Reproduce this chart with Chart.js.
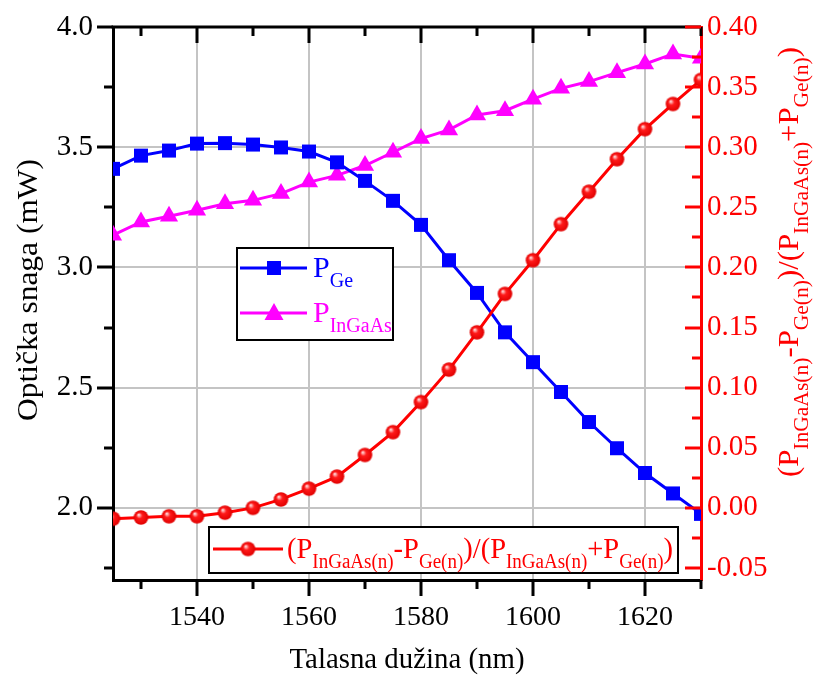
<!DOCTYPE html>
<html><head><meta charset="utf-8">
<script src="https://cdn.jsdelivr.net/npm/chart.js@4/dist/chart.umd.min.js"></script>
<style>html,body{margin:0;padding:0;background:#fff;}#wrap{width:813px;height:675px;}</style>
</head><body><div id="wrap"><canvas id="c" width="813" height="675"></canvas></div>
<script>
// ---- data ----
const wavelengths = [1525,1530,1535,1540,1545,1550,1555,1560,1565,1570,1575,1580,1585,1590,1595,1600,1605,1610,1615,1620,1625,1630];
const pGe = [3.41,3.465,3.486,3.515,3.517,3.511,3.499,3.482,3.437,3.36,3.277,3.177,3.03,2.894,2.73,2.606,2.482,2.357,2.248,2.145,2.06,1.975];
const pInGaAs = [3.134,3.189,3.213,3.238,3.265,3.279,3.307,3.355,3.383,3.424,3.479,3.536,3.572,3.634,3.652,3.70,3.745,3.773,3.81,3.846,3.888,3.87];
const ratio = [-0.009,-0.008,-0.007,-0.007,-0.004,0.000,0.007,0.016,0.026,0.044,0.063,0.088,0.115,0.146,0.178,0.206,0.236,0.263,0.290,0.315,0.336,0.356];
const xTitle = 'Talasna dužina (nm)';
const yTitle = 'Optička snaga (mW)';
const ratioParts = [['(P',0],['InGaAs(n)',1],['-P',0],['Ge(n)',1],[')/(P',0],['InGaAs(n)',1],['+P',0],['Ge(n)',1],[')',0]];
const legendGe = [['P',0],['Ge',1]];
const legendInGaAs = [['P',0],['InGaAs',1]];

const FONT = '"Liberation Serif", "Times New Roman", serif';
const BLUE = '#0000ff', MAG = '#ff00ff', RED = '#ff0000', GRID = '#c4c4c4';

// sphere marker image
function makeSphere(r) {
  const c = document.createElement('canvas');
  const s = Math.ceil(r * 2 + 2);
  c.width = s; c.height = s;
  const g = c.getContext('2d');
  const cx = s / 2, cy = s / 2;
  const grad = g.createRadialGradient(cx - r * 0.35, cy - r * 0.4, 0, cx, cy, r);
  grad.addColorStop(0, '#ffffff');
  grad.addColorStop(0.18, '#ff9a9a');
  grad.addColorStop(0.4, '#ff1a1a');
  grad.addColorStop(1, '#e00000');
  g.fillStyle = grad;
  g.beginPath(); g.arc(cx, cy, r, 0, Math.PI * 2); g.fill();
  return c;
}
const sphere = makeSphere(7.3);

const pts = (ys) => wavelengths.map((x, i) => ({x: x, y: ys[i]}));

function drawRich(ctx, parts, x, y, o) {
  const M = o.size, S = o.sub, D = o.drop;
  let w = 0;
  const widths = parts.map(([t, s]) => { ctx.font = (s ? S : M) + 'px ' + FONT; const m = ctx.measureText(t).width; w += m; return m; });
  const sx = o.fit ? o.fit / w : 1;
  const x0 = o.align === 'center' ? x - w * sx / 2 : x;
  ctx.save();
  ctx.translate(x0, y); ctx.scale(sx, 1);
  ctx.fillStyle = o.color; ctx.textBaseline = 'alphabetic'; ctx.textAlign = 'left';
  let cx = 0;
  parts.forEach(([t, s], i) => { ctx.font = (s ? S : M) + 'px ' + FONT; ctx.fillText(t, cx, s ? D : 0); cx += widths[i]; });
  ctx.restore();
}

const decor = {
  id: 'decor',
  afterDraw(chart) {
    const ctx = chart.ctx;
    const {left, right, top, bottom} = chart.chartArea;
    const xs = chart.scales.x, yl = chart.scales.y, yr = chart.scales.y1;
    ctx.save();
    ctx.lineCap = 'butt';
    // top border
    ctx.strokeStyle = '#000'; ctx.lineWidth = 3;
    ctx.beginPath(); ctx.moveTo(left - 1.5, top); ctx.lineTo(right, top); ctx.stroke();
    // x ticks (bottom outward, top inward)
    for (let v = 1530; v <= 1630; v += 10) {
      const px = Math.round(xs.getPixelForValue(v));
      const len = (v % 20 === 0) ? 16 : 9;
      ctx.beginPath();
      ctx.moveTo(px, bottom); ctx.lineTo(px, bottom + len);
      ctx.moveTo(px, top); ctx.lineTo(px, top + len);
      ctx.stroke();
    }
    // left ticks outward
    for (let k = 7; k <= 16; k++) {
      const v = k * 0.25;
      const py = Math.round(yl.getPixelForValue(v));
      const len = (k % 2 === 0) ? 16 : 9;
      ctx.beginPath(); ctx.moveTo(left, py); ctx.lineTo(left - len, py); ctx.stroke();
    }
    // right ticks inward, red
    ctx.strokeStyle = RED;
    for (let k = -2; k <= 16; k++) {
      const v = k * 0.025;
      const py = Math.round(yr.getPixelForValue(v));
      const len = (k % 2 === 0) ? 16 : 9;
      ctx.beginPath(); ctx.moveTo(right, py); ctx.lineTo(right - len, py); ctx.stroke();
    }
    // axis titles
    drawRich(ctx, [[xTitle, 0]], 407, 668, {size: 30, sub: 20, drop: 0, color: '#000', align: 'center', fit: 235});
    ctx.save(); ctx.translate(37, 290); ctx.rotate(-Math.PI / 2);
    drawRich(ctx, [[yTitle, 0]], 0, 0, {size: 30, sub: 20, drop: 0, color: '#000', align: 'center', fit: 262});
    ctx.restore();
    ctx.save(); ctx.translate(798, 262); ctx.rotate(-Math.PI / 2);
    drawRich(ctx, ratioParts, 0, 0, {size: 30, sub: 21, drop: 10, color: RED, align: 'center', fit: 430});
    ctx.restore();

    // legend 1
    ctx.fillStyle = '#fff'; ctx.fillRect(237, 248, 156, 92);
    ctx.strokeStyle = '#000'; ctx.lineWidth = 2; ctx.strokeRect(237, 248, 156, 92);
    ctx.lineWidth = 3;
    ctx.strokeStyle = BLUE; ctx.beginPath(); ctx.moveTo(240, 268); ctx.lineTo(307, 268); ctx.stroke();
    ctx.fillStyle = BLUE; ctx.fillRect(274 - 7, 268 - 7, 14, 14);
    drawRich(ctx, legendGe, 313, 277, {size: 30, sub: 20, drop: 10, color: BLUE});
    ctx.strokeStyle = MAG; ctx.beginPath(); ctx.moveTo(240, 313); ctx.lineTo(307, 313); ctx.stroke();
    ctx.fillStyle = MAG; ctx.beginPath(); ctx.moveTo(274, 303); ctx.lineTo(283.5, 320); ctx.lineTo(264.5, 320); ctx.closePath(); ctx.fill();
    drawRich(ctx, legendInGaAs, 313, 322, {size: 30, sub: 20, drop: 10, color: MAG});

    // legend 2
    ctx.fillStyle = '#fff'; ctx.fillRect(209, 527, 469, 46);
    ctx.strokeStyle = '#000'; ctx.lineWidth = 2; ctx.strokeRect(209, 527, 469, 46);
    ctx.lineWidth = 3; ctx.strokeStyle = RED;
    ctx.beginPath(); ctx.moveTo(213, 549); ctx.lineTo(283, 549); ctx.stroke();
    ctx.drawImage(sphere, 248 - sphere.width / 2, 549 - sphere.height / 2);
    drawRich(ctx, ratioParts, 287, 558, {size: 30, sub: 20, drop: 10, color: RED, fit: 386});
    ctx.restore();
  }
};

function noPad(s) { s.paddingTop = 0; s.paddingBottom = 0; s.paddingLeft = 0; s.paddingRight = 0; }

Chart.defaults.font.family = FONT;
new Chart(document.getElementById('c'), {
  type: 'line',
  data: {
    datasets: [
      {label: 'ratio', data: pts(ratio), yAxisID: 'y1', borderColor: RED, borderWidth: 3, pointStyle: sphere, pointRadius: 7, backgroundColor: RED, tension: 0, clip: 0},
      {label: 'PGe', data: pts(pGe), yAxisID: 'y', borderColor: BLUE, backgroundColor: BLUE, borderWidth: 3, pointStyle: 'rect', pointRadius: 9.9, pointBorderWidth: 0, pointBackgroundColor: BLUE, tension: 0, clip: 0},
      {label: 'PInGaAs', data: pts(pInGaAs), yAxisID: 'y', borderColor: MAG, backgroundColor: MAG, borderWidth: 3, pointStyle: 'triangle', pointRadius: 10.5, pointBorderWidth: 0, pointBackgroundColor: MAG, tension: 0, clip: 0}
    ]
  },
  options: {
    responsive: false, animation: false, devicePixelRatio: 1,
    layout: {padding: {top: 27, left: 0, right: 0, bottom: 0}},
    plugins: {legend: {display: false}, tooltip: {enabled: false}},
    scales: {
      x: {type: 'linear', position: 'bottom', min: 1525, max: 1630,
        ticks: {stepSize: 20, includeBounds: false, autoSkip: false, maxRotation: 0, padding: 21, color: '#000', font: {size: 28, family: FONT}, callback: v => String(v)},
        grid: {drawTicks: false, color: GRID, lineWidth: 2},
        border: {display: true, color: '#000', width: 3},
        afterFit: s => { s.height = 95; noPad(s); }},
      y: {type: 'linear', position: 'left', min: 1.7, max: 4.0,
        ticks: {stepSize: 0.5, includeBounds: false, padding: 20, color: '#000', font: {size: 29, family: FONT}, callback: v => v.toFixed(1)},
        grid: {drawTicks: false, lineWidth: 2, color: c => (c.tick && c.tick.value > 3.99) ? 'rgba(0,0,0,0)' : GRID},
        border: {display: true, color: '#000', width: 3},
        afterFit: s => { s.width = 113; noPad(s); }},
      y1: {type: 'linear', position: 'right', min: -0.06, max: 0.40,
        ticks: {stepSize: 0.05, includeBounds: false, padding: 6, color: RED, font: {size: 29, family: FONT}, callback: v => v.toFixed(2)},
        grid: {display: false, drawTicks: false},
        border: {display: true, color: RED, width: 3},
        afterFit: s => { s.width = 112; noPad(s); }}
    }
  },
  plugins: [decor]
});
</script>
</body></html>
